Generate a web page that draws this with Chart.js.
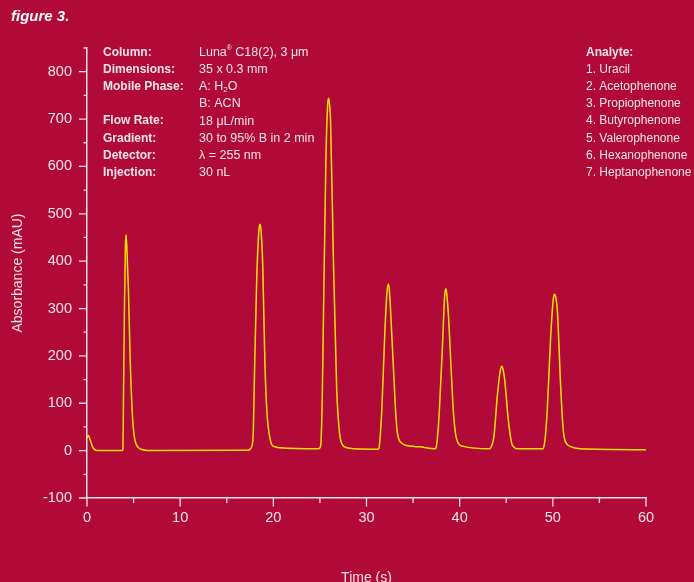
<!DOCTYPE html>
<html>
<head>
<meta charset="utf-8">
<script src="https://cdn.jsdelivr.net/npm/chart.js@4.4.1/dist/chart.umd.min.js"></script>
<style>
  html, body { margin:0; padding:0; background:#b10a38; }
  #wrap { width:694px; height:582px; position:relative; }
</style>
</head>
<body>
<div id="wrap"><canvas id="chrom" width="694" height="582"></canvas></div>
<script>
// chromatogram trace (time in s, absorbance in mAU)
const timeS = [
  0.00, 0.15, 0.35, 0.60, 0.85, 1.10, 3.75,
  3.85, 3.92, 4.02, 4.12, 4.19, 4.27, 4.45, 4.63, 4.85, 4.97, 5.10, 5.25, 5.40, 5.60, 5.80, 6.50,
  17.30, 17.55, 17.75, 17.85, 17.96, 18.21, 18.45, 18.57, 18.70, 18.86, 19.10, 19.30, 19.46, 19.65, 19.82, 20.20, 20.70,
  24.80, 25.01, 25.12, 25.25, 25.37, 25.65, 25.85, 25.94, 26.05, 26.15, 26.44, 26.80, 26.98, 27.15, 27.30, 27.51, 27.90, 28.60,
  31.20, 31.34, 31.45, 31.63, 31.98, 32.20, 32.34, 32.45, 32.60, 32.95, 33.15, 33.30, 33.45, 33.70, 34.10, 35.00, 35.74,
  37.30, 37.46, 37.60, 37.81, 38.18, 38.38, 38.50, 38.60, 38.78, 39.14, 39.35, 39.57, 39.75, 39.95, 40.39,
  43.20, 43.33, 43.50, 43.68, 44.04, 44.35, 44.54, 44.65, 44.83, 45.22, 45.58, 45.85, 46.12,
  48.90, 49.05, 49.20, 49.40, 49.77, 50.05, 50.20, 50.30, 50.48, 50.84, 51.05, 51.20, 51.35, 51.55, 51.84, 52.90, 60.00
];
const absorbance = [
  27, 32, 22, 8, 2, 0.3, 0.3,
  3, 120, 300, 430, 456, 432, 336, 196, 83, 48, 27, 15, 9, 5, 3, 0.5,
  1, 4, 14, 40, 146, 357, 465, 478, 460, 392, 181, 85, 48, 25, 13, 8, 6,
  4, 6, 20, 110, 269, 621, 735, 744, 728, 691, 410, 129, 65, 30, 17, 10, 6, 4,
  3, 5, 25, 80, 255, 335, 352, 340, 290, 150, 75, 40, 25, 17, 12, 9, 8,
  4, 6, 25, 80, 234, 325, 342, 333, 290, 150, 75, 34, 20, 13, 9,
  4, 6, 14, 30, 115, 168, 178, 172, 150, 65, 16, 7, 4,
  4, 9, 30, 86, 241, 320, 330, 325, 297, 136, 60, 30, 19, 13, 9, 4, 2
];

const setupLabels = ['Column:', 'Dimensions:', 'Mobile Phase:', '', 'Flow Rate:', 'Gradient:', 'Detector:', 'Injection:'];
const setupValues = ['Luna^®^ C18(2), 3 μm', '35 x 0.3 mm', 'A: H_2_O', 'B: ACN', '18 μL/min', '30 to 95% B in 2 min', 'λ = 255 nm', '30 nL'];
const analytes = ['Analyte:', '1. Uracil', '2. Acetophenone', '3. Propiophenone', '4. Butyrophenone',
  '5. Valerophenone', '6. Hexanophenone', '7. Heptanophenone'];

const TXT = '#f6e4ea';
const AXIS = '#f4e2e8';
const FONT = '"Liberation Sans", Arial, sans-serif';

// draws text with ^sup^ and _sub_ pieces
function drawRich(ctx, str, x, y, size) {
  const parts = str.split(/(\^[^^]+\^|_[^_]+_)/).filter(s => s.length);
  parts.forEach(p => {
    let s = p, dy = 0, fs = size;
    if (p[0] === '^') { s = p.slice(1, -1); fs = size * 0.55; dy = -size * 0.3; }
    else if (p[0] === '_') { s = p.slice(1, -1); fs = size * 0.65; dy = size * 0.28; }
    ctx.font = fs + 'px ' + FONT;
    ctx.fillText(s, x, y + dy);
    x += ctx.measureText(s).width;
  });
}

const decorations = {
  id: 'decorations',
  afterDraw(chart) {
    const ctx = chart.ctx, xs = chart.scales.x, ys = chart.scales.y;
    ctx.save();
    // tick marks: long on labelled values, short between
    ctx.strokeStyle = AXIS; ctx.lineWidth = 1.3;
    ctx.beginPath();
    ys.ticks.forEach(t => {
      const py = ys.getPixelForValue(t.value);
      const len = t.value % 100 === 0 ? 8 : 3.5;
      ctx.moveTo(ys.right - len, py); ctx.lineTo(ys.right, py);
    });
    xs.ticks.forEach(t => {
      const px = xs.getPixelForValue(t.value);
      const len = t.value % 10 === 0 ? 8.5 : 5;
      ctx.moveTo(px, xs.top); ctx.lineTo(px, xs.top + len);
    });
    ctx.stroke();

    ctx.fillStyle = '#ffffff';
    ctx.textBaseline = 'middle';
    ctx.font = 'italic bold 15px ' + FONT;
    ctx.fillText('figure 3.', 11, 17);

    ctx.fillStyle = TXT;
    const rowY = i => 52.3 + i * 17.2;
    setupLabels.forEach((l, i) => {
      ctx.font = 'bold 12px ' + FONT;
      if (l) ctx.fillText(l, 103, rowY(i));
      drawRich(ctx, setupValues[i], 199, rowY(i), 12.5);
    });
    analytes.forEach((a, i) => {
      ctx.font = (i === 0 ? 'bold ' : '') + '12px ' + FONT;
      ctx.fillText(a, 586, rowY(i));
    });
    ctx.restore();
  }
};

new Chart(document.getElementById('chrom'), {
  type: 'line',
  data: {
    datasets: [{
      data: timeS.map((t, i) => ({ x: t, y: absorbance[i] })),
      borderColor: '#ffe100',
      borderWidth: 1.5,
      pointRadius: 0,
      cubicInterpolationMode: 'monotone',
      fill: false
    }]
  },
  options: {
    responsive: false,
    animation: false,
    devicePixelRatio: 1,
    layout: { padding: { top: 48, right: 48, left: 0, bottom: 0 } },
    plugins: { legend: { display: false }, tooltip: { enabled: false } },
    scales: {
      x: {
        type: 'linear', min: 0, max: 60,
        grid: { display: false, drawTicks: false },
        border: { display: true, color: AXIS, width: 1.5 },
        ticks: {
          stepSize: 5, autoSkip: false, padding: 11, color: TXT,
          font: { family: FONT, size: 14.5 },
          callback: v => (v % 10 === 0 ? String(v) : '')
        },
        title: { display: true, text: 'Time (s)', color: TXT, font: { family: FONT, size: 14 },
          padding: { top: 0, bottom: -5 } },
        afterFit: s => { s.height = 84; }
      },
      y: {
        min: -100, max: 850,
        grid: { display: false, drawTicks: false },
        border: { display: true, color: AXIS, width: 1.5 },
        ticks: {
          stepSize: 50, autoSkip: false, padding: 15, color: TXT,
          font: { family: FONT, size: 14.5 },
          callback: v => (v % 100 === 0 ? String(v) : '')
        },
        title: { display: true, text: 'Absorbance (mAU)', color: TXT, font: { family: FONT, size: 14 },
          padding: { top: 10, bottom: 0 } },
        afterFit: s => { s.width = 87; }
      }
    }
  },
  plugins: [decorations]
});
</script>
</body>
</html>
